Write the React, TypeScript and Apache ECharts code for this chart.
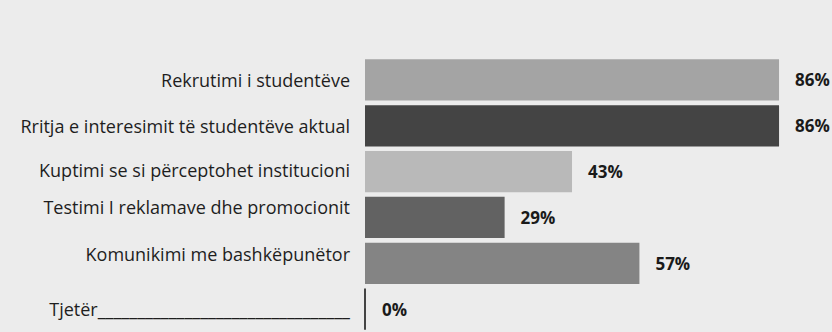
import React, { useEffect, useRef } from "react";
import * as echarts from "echarts";

const categories = [
  "Rekrutimi i studentëve",
  "Rritja e interesimit të studentëve aktual",
  "Kuptimi se si përceptohet institucioni",
  "Testimi I reklamave dhe promocionit",
  "Komunikimi me bashkëpunëtor",
  "Tjetër________________________________",
];
const values = [86, 86, 43, 29, 57, 0];
const barColors = ["#a4a4a4", "#444444", "#b9b9b9", "#626262", "#848484", "#444444"];
const labelLift = [0, 0, 4, 20, 18, 0];

export default function App() {
  const ref = useRef<HTMLDivElement>(null);
  useEffect(() => {
    if (!ref.current) return;
    const chart = echarts.init(ref.current, null, { renderer: "svg" });
    chart.setOption({
      animation: false,
      backgroundColor: "#ececec",
      grid: { left: 365, top: 57, width: 467, height: 275, containLabel: false },
      xAxis: { type: "value", min: 0, max: 97, show: false },
      yAxis: {
        type: "category",
        inverse: true,
        data: categories,
        axisLine: { show: false },
        axisTick: { show: false },
        splitLine: { show: false },
        axisLabel: {
          margin: 15,
          color: "#1e1e1e",
          fontFamily: "Open Sans",
          fontSize: 18,
          formatter: (v: string, i: number) => `{l${labelLift[i]}|${v}}`,
          rich: Object.fromEntries(
            labelLift.map((p) => [
              `l${p}`,
              { fontFamily: "Open Sans", fontSize: 18, color: "#1e1e1e", padding: [0, 0, p, 0] },
            ])
          ),
        },
      },
      series: [
        {
          type: "bar",
          barCategoryGap: "10%",
          data: values.map((v, i) => ({
            value: v,
            itemStyle:
              v === 0
                ? { color: barColors[i], borderColor: barColors[i], borderWidth: 2 }
                : { color: barColors[i] },
          })),
          label: {
            show: true,
            position: "right",
            distance: 16,
            formatter: "{c}%",
            fontFamily: "Open Sans",
            fontWeight: "bold",
            fontSize: 17,
            color: "#1a1a1a",
          },
        },
      ],
    });
    return () => chart.dispose();
  }, []);
  return (
    <div
      ref={ref}
      style={{ position: "fixed", left: 0, top: 0, width: 832, height: 332 }}
    />
  );
}
